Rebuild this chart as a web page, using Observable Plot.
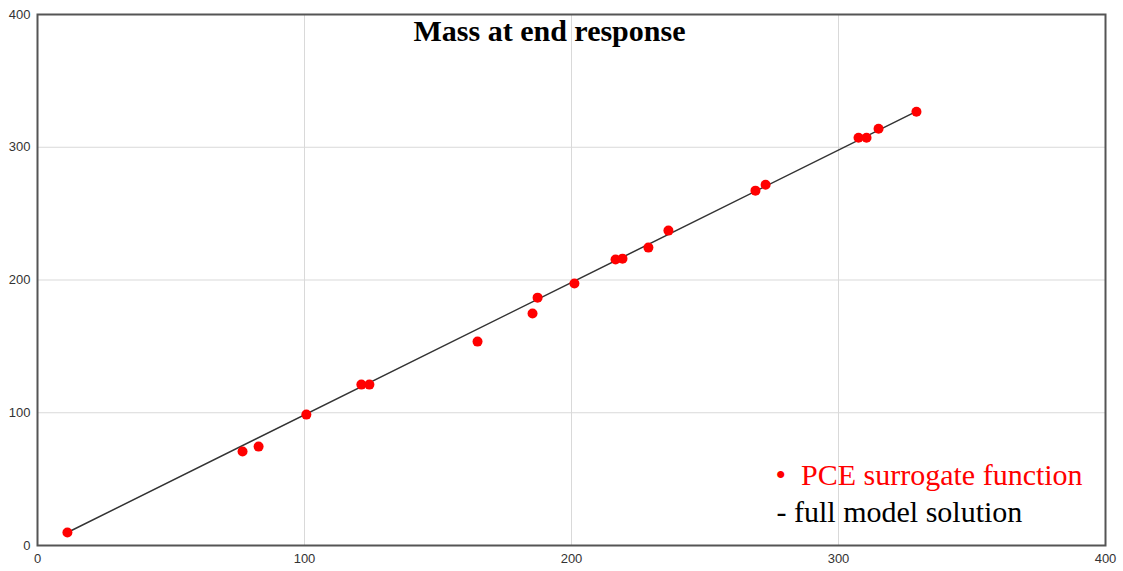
<!DOCTYPE html>
<html>
<head>
<meta charset="utf-8">
<script src="https://cdn.jsdelivr.net/npm/d3@7"></script>
<script src="https://cdn.jsdelivr.net/npm/@observablehq/plot@0.6"></script>
<style>
  html, body { margin: 0; padding: 0; background: #fff; }
  #chart { width: 1123px; height: 571px; }
</style>
</head>
<body>
<div id="chart"></div>
<script>
// Full model solution (x) vs PCE surrogate (y)
const fullModel = [11.2, 76.8, 82.8, 100.7, 121.3, 124.3, 164.8, 185.4, 187.3, 201.1, 216.5, 219.1, 228.8, 236.3, 268.9, 272.7, 307.5, 310.5, 315.0, 329.2];
const surrogate = [9.8, 70.8, 74.5, 98.6, 121.2, 121.2, 153.6, 174.7, 186.7, 197.3, 215.4, 216.1, 224.4, 237.2, 267.3, 271.8, 307.2, 307.2, 314.0, 326.8];
// Reference line (full model solution)
const lineX = [11.2, 329.2];
const lineY = [9.8, 327.0];
const ticks = [0, 100, 200, 300, 400];
const titleText = ["Mass at end response"];
const legendLabels = ["•  PCE surrogate function", "- full model solution"];

const points = fullModel.map((x, i) => ({x, y: surrogate[i]}));
const line = lineX.map((x, i) => ({x, y: lineY[i]}));

const plot = Plot.plot({
  width: 1123,
  height: 571,
  marginLeft: 37,
  marginRight: 18,
  marginTop: 14,
  marginBottom: 26,
  x: {domain: [0, 400], label: null},
  y: {domain: [0, 400], label: null},
  style: {fontFamily: "'Liberation Sans', Arial, sans-serif", background: "#fff"},
  marks: [
    Plot.gridX(ticks, {stroke: "#d9d9d9", strokeOpacity: 1}),
    Plot.gridY(ticks, {stroke: "#d9d9d9", strokeOpacity: 1}),
    Plot.axisX(ticks, {tickSize: 0, tickPadding: 8, fontSize: 13, fill: "#333", label: null}),
    Plot.axisY(ticks, {tickSize: 0, tickPadding: 7, fontSize: 13, fill: "#333", label: null}),
    Plot.line(line, {x: "x", y: "y", stroke: "#333", strokeWidth: 1.5}),
    Plot.dot(points, {x: "x", y: "y", r: 5, fill: "#ff0000", stroke: "none"}),
    Plot.frame({stroke: "#555", strokeWidth: 2}),
    Plot.text(titleText, {
      text: d => d, frameAnchor: "top", dx: -22, dy: 5, lineAnchor: "top",
      fontFamily: "'Liberation Serif', 'Times New Roman', serif",
      fontWeight: "bold", fontSize: 30, fill: "#000"
    }),
    Plot.text([legendLabels[0]], {
      text: d => d, frameAnchor: "top-left", textAnchor: "start", dx: 738, dy: 461, lineAnchor: "middle",
      fontFamily: "'Liberation Serif', 'Times New Roman', serif", fontSize: 30, fill: "#ff0000"
    }),
    Plot.text([legendLabels[1]], {
      text: d => d, frameAnchor: "top-left", textAnchor: "start", dx: 739, dy: 498, lineAnchor: "middle",
      fontFamily: "'Liberation Serif', 'Times New Roman', serif", fontSize: 30, fill: "#000"
    })
  ]
});
document.getElementById("chart").appendChild(plot);
</script>
</body>
</html>
